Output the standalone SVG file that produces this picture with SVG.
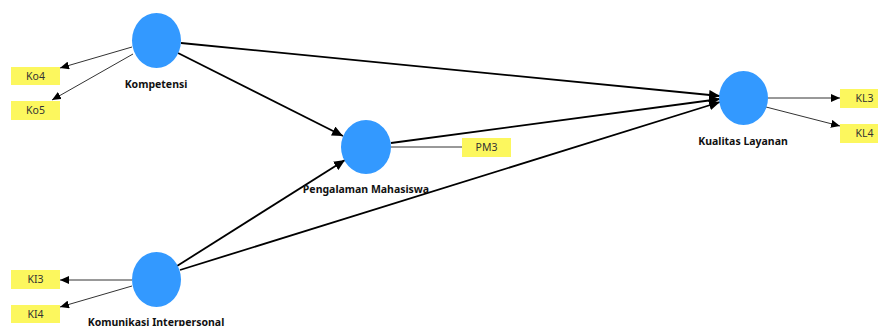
<svg xmlns="http://www.w3.org/2000/svg" width="878" height="326" viewBox="0 0 878 326">
<defs>
<marker id="ah" markerUnits="userSpaceOnUse" markerWidth="12" markerHeight="10" refX="11" refY="5" orient="auto">
<path d="M0,0 L11,5 L0,10 Z" fill="#000"/>
</marker>
<marker id="ahs" markerUnits="userSpaceOnUse" markerWidth="10" markerHeight="8" refX="9" refY="4" orient="auto">
<path d="M0,0 L9,4 L0,8 Z" fill="#000"/>
</marker>
<style>
.lv{fill:#3399FF;stroke:none}
.ind{fill:#FCF75E;stroke:none}
.lbl{font-family:"Noto Sans","DejaVu Sans",sans-serif;font-weight:bold;font-size:10.5px;fill:#111;text-anchor:middle}
.itxt{font-family:"Noto Sans","DejaVu Sans",sans-serif;font-size:10.5px;fill:#333;text-anchor:middle}
.path{stroke:#000;stroke-width:1.8;fill:none;marker-end:url(#ah)}
.load{stroke:#333;stroke-width:1;fill:none;marker-end:url(#ahs)}
.plain{stroke:#333;stroke-width:1;fill:none}
</style>
</defs>
<rect width="878" height="326" fill="#fff"/>
<g id="connectors">
<line class="path" x1="181" y1="43" x2="720" y2="96"/>
<line class="path" x1="178" y1="53" x2="343" y2="136"/>
<line class="path" x1="391" y1="143" x2="720" y2="99"/>
<line class="path" x1="177" y1="266" x2="345" y2="160"/>
<line class="path" x1="180" y1="270" x2="720" y2="102"/>
<line class="load" x1="132" y1="47" x2="60" y2="68"/>
<line class="load" x1="133" y1="54" x2="52" y2="100"/>
<line class="load" x1="132" y1="280" x2="60" y2="280"/>
<line class="load" x1="132" y1="286" x2="60" y2="307"/>
<line class="plain" x1="391" y1="147" x2="462" y2="147"/>
<line class="load" x1="768" y1="98" x2="840" y2="98"/>
<line class="load" x1="766" y1="107" x2="840" y2="126"/>
</g>
<g id="kompetensi">
<ellipse class="lv" cx="156.5" cy="40.5" rx="24.5" ry="27.5"/>
<text class="lbl" x="156" y="88">Kompetensi</text>
</g>
<g id="ko4">
<rect class="ind" x="11" y="67" width="49" height="18"/>
<text class="itxt" x="35.5" y="80">Ko4</text>
</g>
<g id="ko5">
<rect class="ind" x="11" y="101" width="49" height="19"/>
<text class="itxt" x="35.5" y="114">Ko5</text>
</g>
<g id="komunikasi">
<ellipse class="lv" cx="156.5" cy="279.5" rx="24.5" ry="27.5"/>
<text class="lbl" x="156" y="325.5">Komunikasi Interpersonal</text>
</g>
<g id="ki3">
<rect class="ind" x="11" y="270" width="49" height="19"/>
<text class="itxt" x="35.5" y="283">KI3</text>
</g>
<g id="ki4">
<rect class="ind" x="11" y="305" width="49" height="18"/>
<text class="itxt" x="35.5" y="318">KI4</text>
</g>
<g id="pengalaman">
<ellipse class="lv" cx="366" cy="147" rx="25" ry="27"/>
<text class="lbl" x="366" y="193">Pengalaman Mahasiswa</text>
</g>
<g id="pm3">
<rect class="ind" x="462" y="138" width="49" height="19"/>
<text class="itxt" x="486.5" y="151">PM3</text>
</g>
<g id="kualitas">
<ellipse class="lv" cx="743.5" cy="98" rx="24.5" ry="27"/>
<text class="lbl" x="743" y="145">Kualitas Layanan</text>
</g>
<g id="kl3">
<rect class="ind" x="840" y="89" width="49" height="19"/>
<text class="itxt" x="864.5" y="102">KL3</text>
</g>
<g id="kl4">
<rect class="ind" x="840" y="124" width="49" height="19"/>
<text class="itxt" x="864.5" y="137">KL4</text>
</g>
</svg>
